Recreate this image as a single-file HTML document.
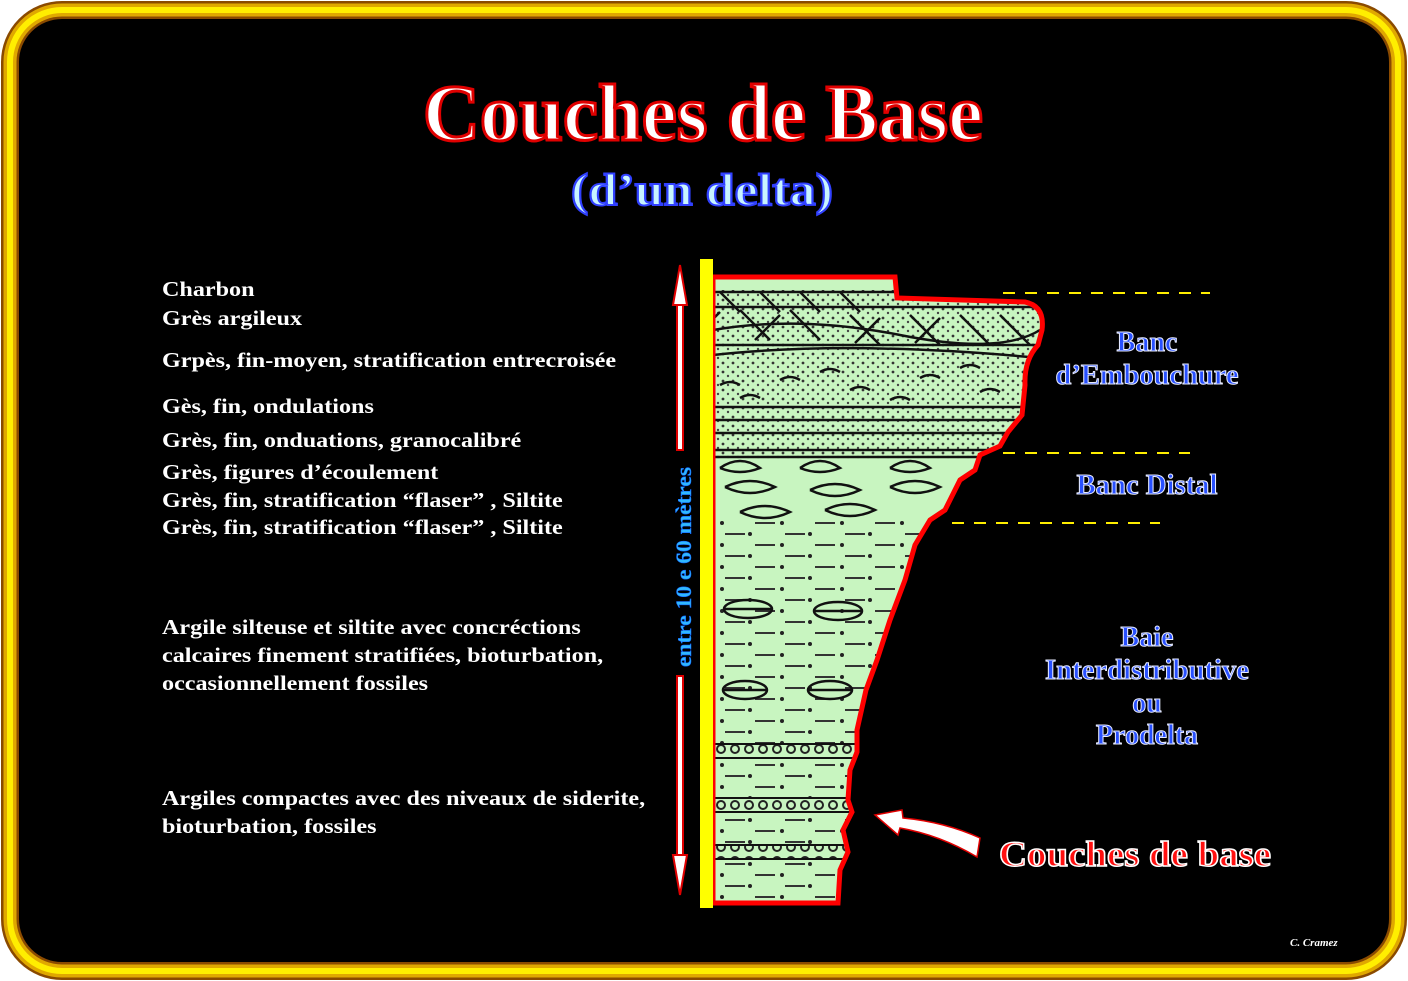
<!DOCTYPE html>
<html><head><meta charset="utf-8"><style>
html,body{margin:0;padding:0;background:#fff;}
svg{display:block;}
text{font-family:"Liberation Serif",serif;font-weight:bold;}
</style></head><body>
<svg width="1408" height="981" viewBox="0 0 1408 981" xmlns="http://www.w3.org/2000/svg">
<defs>
<pattern id="dash" width="60" height="22" patternUnits="userSpaceOnUse">
<line x1="5" y1="6" x2="25" y2="6" stroke="#333" stroke-width="2"/>
<line x1="35" y1="17" x2="55" y2="17" stroke="#333" stroke-width="2"/>
<circle cx="30" cy="6" r="2" fill="#222"/><circle cx="2" cy="17" r="2" fill="#222"/>
</pattern>
<pattern id="dots" width="10" height="9" patternUnits="userSpaceOnUse">
<circle cx="3" cy="3" r="1.4" fill="#333"/><circle cx="8" cy="7" r="1.2" fill="#444"/>
</pattern>
<pattern id="bead" width="14" height="14" patternUnits="userSpaceOnUse">
<circle cx="7" cy="7" r="4" fill="none" stroke="#222" stroke-width="2"/>
</pattern>
<clipPath id="col"><path id="colpath" d="M713,277 L895,277 L897,298 L1025,302 Q1045,306 1042,330 L1038,345 Q1024,360 1025,385 L1022,415 L1008,432 L1000,446 L980,455 L975,470 L960,480 L945,510 L930,520 L915,545 L905,580 L890,620 L877,660 L866,690 L857,730 L857,752 L850,770 L848,800 L852,812 L843,830 L848,852 L840,870 L838,903 L713,903 Z"/></clipPath>
</defs>
<rect x="0" y="0" width="1408" height="981" fill="#fff"/>
<rect x="10" y="10" width="1388" height="961" rx="52" fill="#000" stroke="#8a4a00" stroke-width="18"/>
<rect x="10" y="10" width="1388" height="961" rx="52" fill="none" stroke="#e0a800" stroke-width="13"/>
<rect x="10" y="10" width="1388" height="961" rx="52" fill="none" stroke="#ffee00" stroke-width="6"/>

<text x="703" y="140" text-anchor="middle" font-size="80" fill="#fff" stroke="#e00000" stroke-width="3" textLength="560" lengthAdjust="spacingAndGlyphs">Couches de Base</text>
<text x="702" y="205" text-anchor="middle" font-size="46" fill="#c8f4ff" stroke="#3040ff" stroke-width="2" textLength="262" lengthAdjust="spacingAndGlyphs">(d’un delta)</text>

<g fill="#fff" font-size="21" transform="translate(162,0) scale(1.15,1)">
<text x="0" y="296">Charbon</text>
<text x="0" y="325">Grès argileux</text>
<text x="0" y="367">Grpès, fin-moyen, stratification entrecroisée</text>
<text x="0" y="413">Gès, fin, ondulations</text>
<text x="0" y="447">Grès, fin, onduations, granocalibré</text>
<text x="0" y="479">Grès, figures d’écoulement</text>
<text x="0" y="507">Grès, fin, stratification “flaser” , Siltite</text>
<text x="0" y="534">Grès, fin, stratification “flaser” , Siltite</text>
<text x="0" y="634">Argile silteuse et siltite avec concréctions</text>
<text x="0" y="662">calcaires finement stratifiées, bioturbation,</text>
<text x="0" y="690">occasionnellement fossiles</text>
<text x="0" y="805">Argiles compactes avec des niveaux de siderite,</text>
<text x="0" y="833">bioturbation, fossiles</text>
</g>

<g clip-path="url(#col)">
<rect x="700" y="270" width="360" height="640" fill="#c8f5c0"/>
<rect x="700" y="290" width="360" height="170" fill="url(#dots)"/>
<rect x="700" y="520" width="360" height="390" fill="url(#dash)"/>
<g stroke="#111" stroke-width="2.5" fill="none">
<path d="M713,292 H900 M713,307 H1040 M713,330 Q800,315 900,335 T1040,330 M713,345 H1040 M713,355 Q850,340 1040,358"/>
<path d="M720,292 l20,20 M760,292 l20,20 M800,292 l20,20 M840,292 l20,20 M740,310 l30,30 M790,310 l30,30 M850,315 l30,30 M910,315 l30,30 M960,315 l30,30 M1000,315 l30,30 M720,312 l-20,20 M780,315 l-25,25 M880,318 l-25,25 M940,318 l-25,25"/>
<path d="M720,385 q10,-6 20,0 M780,380 q10,-6 20,0 M850,390 q10,-6 20,0 M920,378 q10,-6 20,0 M980,392 q10,-6 20,0 M740,398 q10,-6 20,0 M890,400 q10,-6 20,0 M820,372 q10,-6 20,0 M960,368 q10,-6 20,0"/>
<path d="M713,407 H1030 M713,420 H1030 M713,433 H1030 M713,450 H1010 M713,457 H1010"/>
<path d="M720,468 q20,-14 40,0 q-20,8 -40,0 M800,468 q20,-14 40,0 q-20,8 -40,0 M890,468 q20,-14 40,0 q-20,8 -40,0"/>
<path d="M725,487 q25,-12 50,0 q-25,12 -50,0 M810,490 q25,-12 50,0 q-25,12 -50,0 M890,487 q25,-12 50,0 q-25,12 -50,0 M740,512 q25,-12 50,0 q-25,12 -50,0 M825,510 q25,-12 50,0 q-25,12 -50,0"/>
<ellipse cx="748" cy="609" rx="24" ry="9"/><ellipse cx="838" cy="611" rx="24" ry="9"/>
<ellipse cx="745" cy="690" rx="22" ry="9"/><ellipse cx="830" cy="690" rx="22" ry="9"/>
<path d="M724,609 H772 M814,611 H862 M723,690 H767 M808,690 H852"/>
</g>
<rect x="713" y="744" width="150" height="14" fill="#c8f5c0"/><rect x="713" y="744" width="150" height="14" fill="url(#bead)"/>
<rect x="713" y="798" width="150" height="14" fill="#c8f5c0"/><rect x="713" y="798" width="150" height="14" fill="url(#bead)"/>
<rect x="713" y="845" width="150" height="14" fill="#c8f5c0"/><rect x="713" y="845" width="150" height="14" fill="url(#bead)"/>
<path d="M713,744 H863 M713,758 H863 M713,798 H863 M713,812 H863 M713,845 H863 M713,859 H863" stroke="#111" stroke-width="2"/>
</g>
<use href="#colpath" fill="none" stroke="#ff0000" stroke-width="5"/>
<rect x="700" y="259" width="13" height="649" fill="#ffff00"/>

<g fill="#fff" stroke="#e00000" stroke-width="2">
<rect x="677" y="300" width="6" height="150"/>
<path d="M680,265 L687,305 L673,305 Z"/>
<rect x="677" y="676" width="6" height="182"/>
<path d="M680,895 L687,855 L673,855 Z"/>
</g>
<text transform="translate(691,567) rotate(-90)" text-anchor="middle" font-size="22" fill="#30b8ff" stroke="#1060ff" stroke-width="0.5" textLength="200" lengthAdjust="spacingAndGlyphs">entre 10 e 60 mètres</text>

<g stroke="#ffee00" stroke-width="2" stroke-dasharray="12,10">
<line x1="1003" y1="293" x2="1210" y2="293"/>
<line x1="1003" y1="453" x2="1190" y2="453"/>
<line x1="952" y1="523" x2="1160" y2="523"/>
</g>

<g font-size="28" fill="#2850ff" stroke="#e8ecff" stroke-width="1" text-anchor="middle">
<text x="1147" y="351">Banc</text>
<text x="1147" y="384" textLength="183" lengthAdjust="spacingAndGlyphs">d’Embouchure</text>
<text x="1147" y="494" textLength="141" lengthAdjust="spacingAndGlyphs">Banc Distal</text>
<text x="1147" y="646">Baie</text>
<text x="1147" y="679" textLength="204" lengthAdjust="spacingAndGlyphs">Interdistributive</text>
<text x="1147" y="712">ou</text>
<text x="1147" y="744">Prodelta</text>
</g>

<path d="M875,815 L902,810 L903,818 Q945,822 980,838 L977,857 Q940,835 900,828 L898,835 Z" fill="#fff" stroke="#e00000" stroke-width="1.5"/>
<text x="1135" y="866" text-anchor="middle" font-size="36" fill="#ff1010" stroke="#fff" stroke-width="1.5" textLength="272" lengthAdjust="spacingAndGlyphs">Couches de base</text>
<text x="1290" y="946" font-size="11" font-style="italic" fill="#fff">C. Cramez</text>
</svg>
</body></html>
